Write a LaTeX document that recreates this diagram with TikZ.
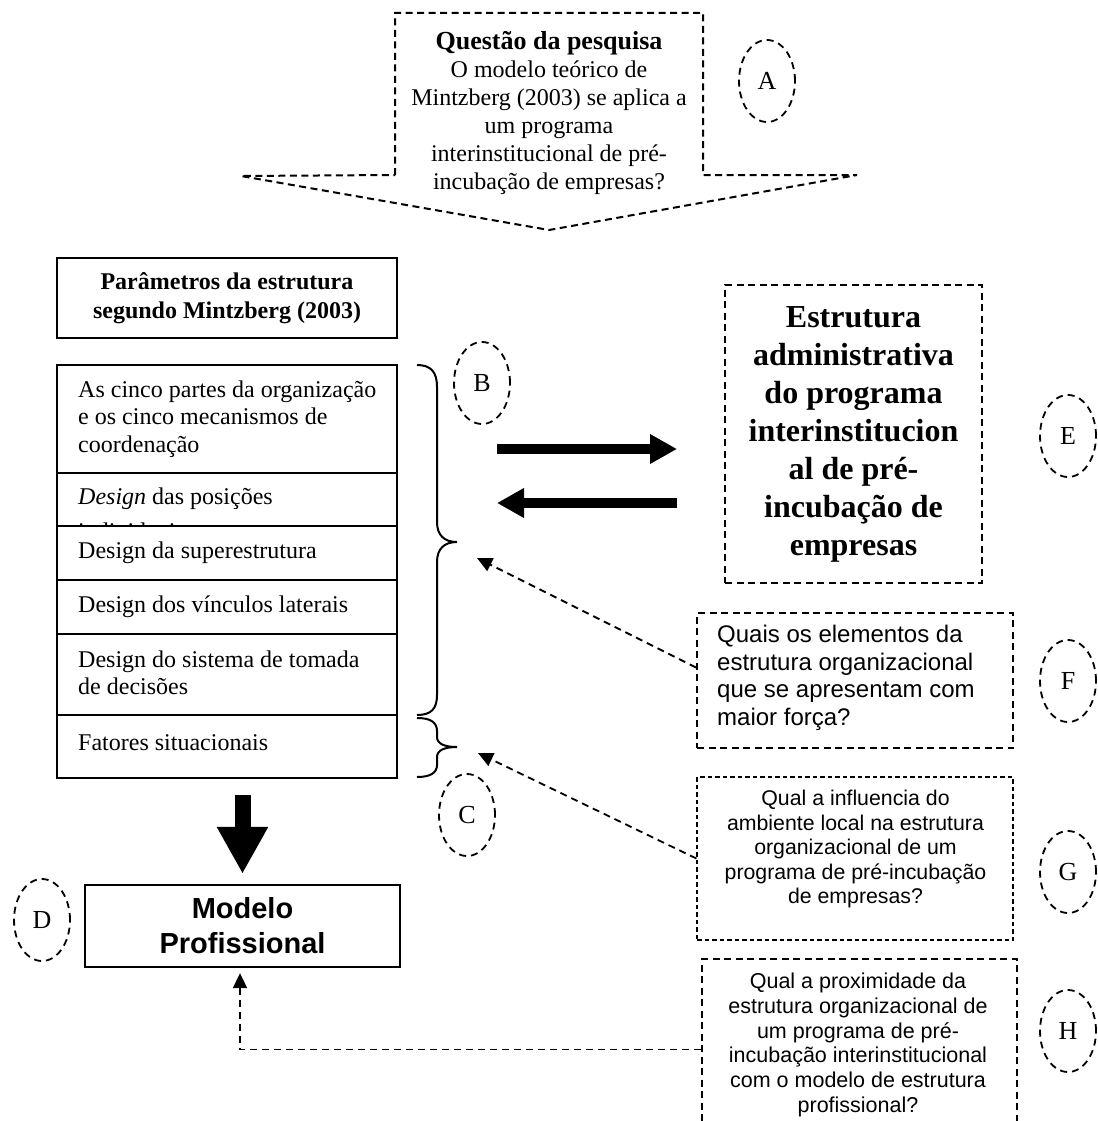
\documentclass[tikz,border=0pt]{standalone}
\usepackage{fontspec}
\setmainfont{Liberation Serif}
\newfontfamily\arialf{Liberation Sans}
\usetikzlibrary{arrows.meta,shapes.geometric,calc}
\begin{document}
\begin{tikzpicture}[x=1pt,y=-1pt,
  solidbox/.style={draw, line width=2.3pt, rectangle, inner sep=0pt},
  dbox/.style={draw, line width=2pt, dash pattern=on 7pt off 4.5pt, rectangle, inner sep=0pt},
  thinbox/.style={draw, line width=1.2pt, dash pattern=on 4.5pt off 3pt, rectangle, inner sep=0pt},
  lbl/.style={draw, ellipse, line width=1.8pt, dash pattern=on 7pt off 5pt, minimum width=56pt, minimum height=82pt, inner sep=0pt, font=\fontsize{26}{30}\selectfont},
  rowtxt/.style={anchor=west, inner sep=0pt, align=left, font=\fontsize{24}{27.5}\selectfont},
  darr/.style={line width=1.8pt, dash pattern=on 7pt off 5pt, -{Triangle[length=15pt,width=14pt]}},
  fatarr/.style={line width=10pt, -{Triangle[length=27pt,width=28pt]}},
  bracestyle/.style={line width=2pt},
]
\clip (0,0) rectangle (1097,1121);
\fill[white] (0,0) rectangle (1097,1121);

% top question arrow shape
\draw[line width=2pt, dash pattern=on 7pt off 4.5pt]
  (395,175) -- (395,13) -- (703,13) -- (703,175) -- (857,175) -- (549,230) -- (241,176) -- cycle;
\node[align=center, inner sep=0pt, font=\fontsize{24}{28}\selectfont] (q) at (549,113)
  {{\fontsize{26}{28}\selectfont\bfseries Questão da pesquisa}\\O modelo teórico de\\Mintzberg (2003) se aplica a\\um programa\\interinstitucional de pré-\\incubação de empresas?};

% parameters header
\node[solidbox, minimum width=340pt, minimum height=80pt, align=center, font=\fontsize{24}{29}\selectfont\bfseries] (par) at (227,298)
  {Parâmetros da estrutura\\segundo Mintzberg (2003)};

% list rows
\node[solidbox, minimum width=340pt, minimum height=108pt] (r1) at (227,419) {};
\node[solidbox, minimum width=340pt, minimum height=53pt] (r2) at (227,499.5) {};
\node[solidbox, minimum width=340pt, minimum height=54pt] (r3) at (227,553) {};
\node[solidbox, minimum width=340pt, minimum height=54pt] (r4) at (227,607) {};
\node[solidbox, minimum width=340pt, minimum height=81pt] (r5) at (227,674.5) {};
\node[solidbox, minimum width=340pt, minimum height=63pt] (r6) at (227,746.5) {};

\node[rowtxt] (t1) at (78,419) {As cinco partes da organização\\e os cinco mecanismos de\\coordenação};
\begin{scope}
  \clip (58,474) rectangle (396,524.5);
  \node[rowtxt] (t2) at (78,499) {\textit{Design} das posições};
  \node[rowtxt] (t2b) at (78,531) {individuais};
\end{scope}
\node[rowtxt] (t3) at (78,553) {Design da superestrutura};
\node[rowtxt] (t4) at (78,607) {Design dos vínculos laterais};
\node[rowtxt] (t5) at (78,673) {Design do sistema de tomada\\de decisões};
\node[rowtxt] (t6) at (78,743) {Fatores situacionais};

% braces
\draw[bracestyle] (417,365) .. controls (431,365) and (437,372) .. (437,387) -- (437,522)
  .. controls (437,535) and (444,542) .. (457,542)
  .. controls (444,542) and (437,549) .. (437,562) -- (437,695)
  .. controls (437,709) and (431,715) .. (417,715);
\draw[bracestyle] (417,718) .. controls (430,718) and (437,722) .. (437,731) -- (437,737)
  .. controls (437,744) and (445,747) .. (457,747)
  .. controls (445,747) and (437,750) .. (437,757) -- (437,765)
  .. controls (437,773) and (430,777) .. (417,777);

% label ellipses
\node[lbl] (A) at (767,81) {A};
\node[lbl] (B) at (482,383) {B};
\node[lbl] (C) at (467,815) {C};
\node[lbl] (D) at (42,920) {D};
\node[lbl] (E) at (1068,436) {E};
\node[lbl] (F) at (1068,681) {F};
\node[lbl] (G) at (1068,872) {G};
\node[lbl] (H) at (1068,1031) {H};

% E box
\node[dbox, minimum width=257pt, minimum height=298pt, align=center, font=\fontsize{32}{38}\selectfont\bfseries] (ebox) at (853.5,434)
  {Estrutura\\administrativa\\do programa\\interinstitucion\\al de pré-\\incubação de\\empresas};

% fat arrows
\coordinate (ra1) at (497,449);
\coordinate (ra2) at (677,449);
\coordinate (la1) at (677,503);
\coordinate (la2) at (497,503);
\draw[fatarr] (ra1) -- (ra2);
\draw[fatarr] (la1) -- (la2);

% F box
\node[dbox, minimum width=316pt, minimum height=135pt] (fbox) at (855,680.5) {};
\node[anchor=west, inner sep=0pt, align=left, font=\arialf\fontsize{24}{27.5}\selectfont] (ftxt) at (717,678)
  {Quais os elementos da\\estrutura organizacional\\que se apresentam com\\maior força?};

% G box
\node[thinbox, minimum width=316pt, minimum height=163pt] (gbox) at (855,858.5) {};
\node[inner sep=0pt, align=center, font=\arialf\fontsize{21.3}{24.5}\selectfont] (gtxt) at (855.5,849)
  {Qual a influencia do\\ambiente local na estrutura\\organizacional de um\\programa de pré-incubação\\de empresas?};

% H box
\node[dbox, minimum width=315pt, minimum height=181pt] (hbox) at (859.5,1049.5) {};
\node[inner sep=0pt, align=center, font=\arialf\fontsize{21.5}{24.7}\selectfont] (htxt) at (858,1045)
  {Qual a proximidade da\\estrutura organizacional de\\um programa de pré-\\incubação interinstitucional\\com o modelo de estrutura\\profissional?};

% Modelo box
\node[solidbox, minimum width=315pt, minimum height=82pt, align=center, font=\arialf\bfseries\fontsize{29}{35}\selectfont] (modelo) at (242.5,926)
  {Modelo\\Profissional};

% big down arrow
\draw[line width=16pt, -{Triangle[length=47pt,width=48pt]}, shorten <=16pt, shorten >=10pt]
  (modelo.north |- r6.south) -- (modelo.north);

% dashed connectors
\coordinate (ftip) at (477,558);
\coordinate (gtip) at (478,753);
\draw[darr] ($(fbox.west)+(0,-13)$) -- (ftip);
\draw[darr] (gbox.west) -- (gtip);
\draw[darr, shorten >=5pt] (hbox.west) -| ($(modelo.south)+(-2.5,0)$);
\end{tikzpicture}
\end{document}
